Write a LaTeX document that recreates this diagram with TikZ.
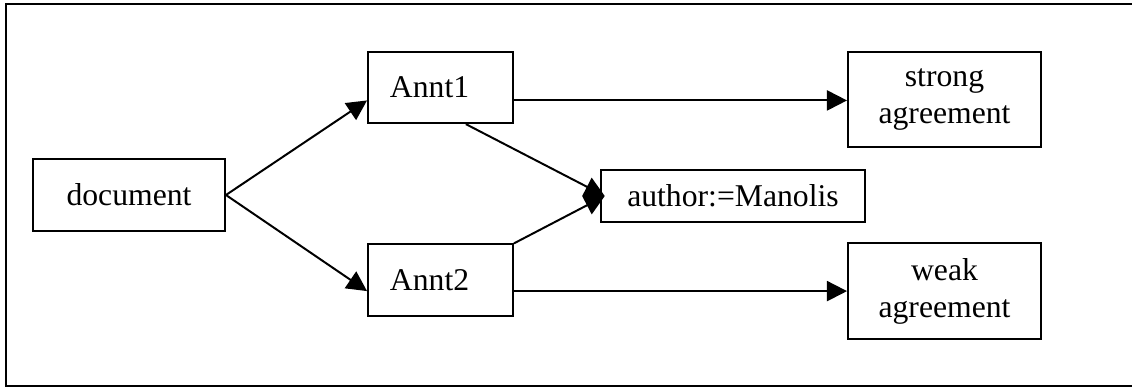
\documentclass[tikz,border=0pt]{standalone}
\usepackage{fontspec}
\setmainfont{Liberation Serif}
\usepackage{tikz}
\usetikzlibrary{positioning,arrows.meta}

\tikzset{
  box/.style={draw,line width=0.75pt,inner sep=0pt,align=center,font=\fontsize{12}{14}\selectfont},
  annbox/.style={box,minimum height=27pt,inner xsep=8.3pt,text width=38.3pt,align=left},
  link/.style={line width=0.75pt,-{Triangle[length=7.6pt,width=7.6pt]}}
}

\begin{document}
\begin{tikzpicture}[x=0.3788pt,y=-0.3788pt]
    \useasboundingbox (0,0) rectangle (1132,387);
    \draw[line width=1.1pt] (1132,4) -- (6,4) -- (6,386) -- (1132,386);
    \node[box,minimum width=72.7pt,minimum height=27.3pt] (doc) at (129,195) {document};
    \node[annbox] (annt1) at (440.5,87.5) {Annt1};
    \node[annbox] (annt2) at (440.5,280) {Annt2};
    \node[box,minimum width=100pt,minimum height=19.7pt] (author) at (733,196) {author:=Manolis};
    \node[box,minimum width=73.1pt,minimum height=36pt] (strong) at (944.5,99.5) {strong\\agreement};
    \node[box,minimum width=73.1pt,minimum height=36.3pt] (weak) at (944.5,291) {weak\\agreement};
    \draw[link] (doc.east) -- ([yshift=-4.9pt]annt1.west);
    \draw[link] (doc.east) -- ([yshift=-4.2pt]annt2.west);
    \draw[link] ([yshift=-4.9pt]annt1.east) -- ([yshift=-4.9pt]annt1.east -| strong.west);
    \draw[link] ([yshift=-4.2pt]annt2.east) -- ([yshift=-4.2pt]annt2.east -| weak.west);
    % both tips meet on the same point
    \draw[link] ([xshift=-18.2pt]annt1.south east) -- ([xshift=1.8pt]author.west);
    \draw[link] (annt2.north east) -- ([xshift=1.8pt]author.west);
  \end{tikzpicture}
\end{document}
